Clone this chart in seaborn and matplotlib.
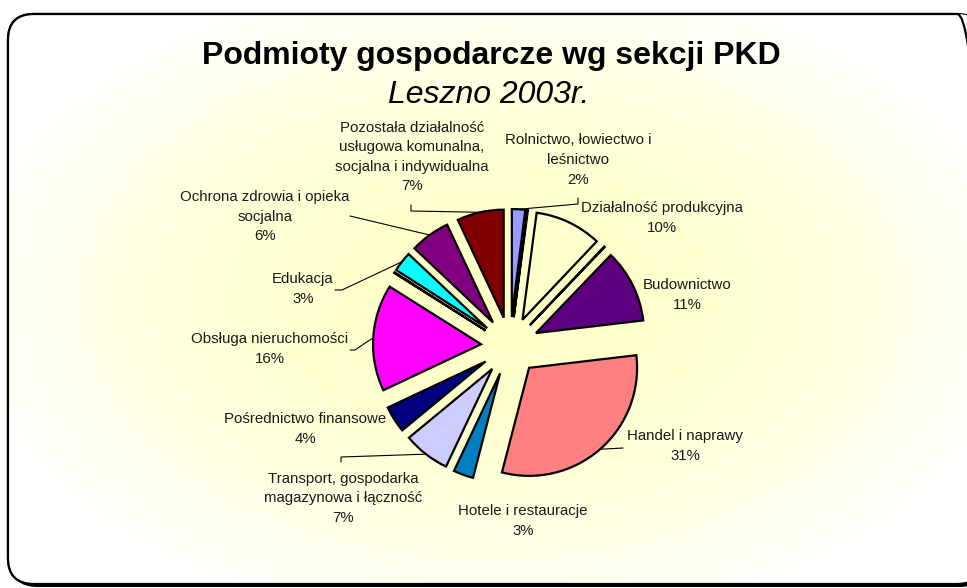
import numpy as np
import matplotlib
matplotlib.use("Agg")
import matplotlib.pyplot as plt
from matplotlib.patches import FancyBboxPatch
import seaborn as sns

# PKD sections, clockwise from 12 o'clock (tiny unlabeled sections kept as slivers)
sections = [
    "Rolnictwo, łowiectwo i\nleśnictwo",
    "Rybactwo, górnictwo",
    "Działalność produkcyjna",
    "Energia",
    "Budownictwo",
    "Handel i naprawy",
    "Hotele i restauracje",
    "Transport, gospodarka\nmagazynowa i łączność",
    "Pośrednictwo finansowe",
    "Obsługa nieruchomości",
    "Administracja publiczna",
    "Edukacja",
    "Ochrona zdrowia i opieka\nsocjalna",
    "Pozostała działalność\nusługowa komunalna,\nsocjalna i indywidualna",
]
shares = [2, 0.1, 10, 0.1, 11, 31, 3, 7, 4, 16, 0.1, 3, 6, 7]
labelled = [True, False, True, False, True, True, True, True, True, True, False, True, True, True]
colors = ["#9999FF", "#993366", "#FFFFCC", "#CCFFFF", "#5C0080", "#FF8080", "#0080C0",
          "#CCCCFF", "#000080", "#FF00FF", "#FFFF00", "#00FFFF", "#800080", "#800000"]

title = "Podmioty gospodarcze wg sekcji PKD"
subtitle = "Leszno 2003r."

# layout (pixel coords, top-down)
W, H = 967, 588
label_pos = {
    0: (578, 160), 2: (662, 218), 4: (687, 295), 5: (685, 446), 6: (523, 521),
    7: (343, 498), 8: (305, 429), 9: (270, 349), 11: (303, 289), 12: (265, 217),
    13: (412, 157),
}
leaders = {
    0: [(578, 198), (578, 204)],
    5: [(623, 448)],
    7: [(341, 462), (341, 457)],
    9: [(350, 350), (355, 350)],
    11: [(335, 290), (342, 290)],
    12: [(350, 216)],
    13: [(411, 205), (411, 211)],
}

sns.set_theme(style="white")
plt.rcParams["font.family"] = ["Liberation Sans", "DejaVu Sans"]

fig = plt.figure(figsize=(W / 100, H / 100), dpi=100)
fig.patch.set_facecolor("white")
ax = fig.add_axes([0, 0, 1, 1])


def Y(py):
    return H - py


# chart frame with shadow and radial gradient fill
shadow = FancyBboxPatch((11, Y(587)), 975, 571, boxstyle="round,pad=0,rounding_size=26",
                        facecolor="black", edgecolor="none", zorder=0)
ax.add_patch(shadow)
frame = FancyBboxPatch((8, Y(584)), 975, 570, boxstyle="round,pad=0,rounding_size=26",
                       facecolor="white", edgecolor="black", linewidth=1.6, zorder=1)
ax.add_patch(frame)

gx, gy = np.meshgrid(np.linspace(0, W, 400), np.linspace(0, H, 250))
r = np.sqrt(((gx - 495) / 540) ** 2 + ((gy - Y(300)) / 340) ** 2)
t = np.clip(r, 0, 1) ** 1.7
c0 = np.array([1.0, 1.0, 0.78])
c1 = np.array([1.0, 1.0, 1.0])
img = c0[None, None, :] * (1 - t[..., None]) + c1[None, None, :] * t[..., None]
im = ax.imshow(img, extent=(0, W, 0, H), origin="lower", zorder=1.5, interpolation="bilinear")
im.set_clip_path(frame)
frame_edge = FancyBboxPatch((8, Y(584)), 975, 570, boxstyle="round,pad=0,rounding_size=26",
                            facecolor="none", edgecolor="black", linewidth=1.6, zorder=2)
ax.add_patch(frame_edge)

wedges, _ = ax.pie(shares, colors=colors, startangle=90, counterclock=False,
                   radius=108, center=(510, Y(346)), explode=[29] * len(shares),
                   wedgeprops=dict(edgecolor="black", linewidth=1.6, zorder=3),
                   frame=True)
for w in wedges:
    w.set_zorder(3)

for i, (name, v) in enumerate(zip(sections, shares)):
    if not labelled[i]:
        continue
    px, py = label_pos[i]
    ax.text(px, Y(py), f"{name}\n{round(v)}%", ha="center", va="center",
            multialignment="center", fontsize=10.8, color="#1a1a1a",
            linespacing=1.5, zorder=5)
    if i in leaders:
        w = wedges[i]
        mid = np.deg2rad((w.theta1 + w.theta2) / 2)
        ax_x = w.center[0] + w.r * np.cos(mid)
        ax_y = w.center[1] + w.r * np.sin(mid)
        pts = [(x, Y(y)) for x, y in leaders[i]] + [(ax_x, ax_y)]
        xs, ys = zip(*pts)
        ax.plot(xs, ys, color="black", linewidth=0.8, zorder=4)

ax.text(491, Y(56), title, ha="center", va="center", fontsize=23,
        fontweight="bold", color="black", zorder=5)
ax.text(489, Y(95), subtitle, ha="center", va="center", fontsize=23,
        fontstyle="italic", color="black", zorder=5)

ax.set_xlim(0, W)
ax.set_ylim(0, H)
ax.set_aspect("equal")
ax.axis("off")

fig.savefig("out.png", dpi=100, facecolor="white")
